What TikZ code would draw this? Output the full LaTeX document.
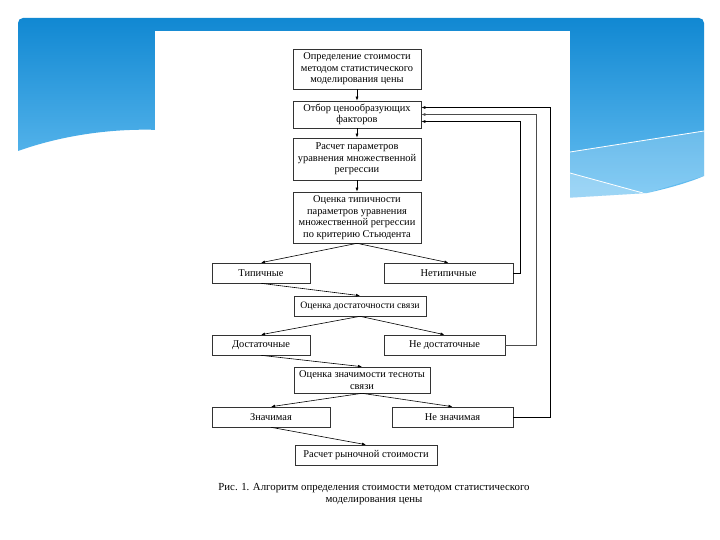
\documentclass[tikz,border=0pt]{standalone}
\usepackage{fontspec}
\setmainfont{Liberation Serif}
\usetikzlibrary{arrows.meta}

\definecolor{bandtop}{RGB}{17,136,210}
\definecolor{bandbot}{RGB}{104,192,242}

\begin{document}
\begin{tikzpicture}[x=1pt,y=-1pt,
  >={Latex[length=4pt,width=3pt]},
  box/.style={draw=black!80,line width=0.6pt,fill=white,align=center,inner sep=1pt,
    font=\fontsize{10.4}{11.5}\selectfont},
  link/.style={->,line width=0.6pt}]

%BACKGROUND
\useasboundingbox (0,0) rectangle (720,540);
\fill[white] (0,0) rectangle (720,540);
% blue band
\shade[top color=bandtop,bottom color=bandbot] (18,151) .. controls (60,136) and (110,128) .. (160,130)
  -- (565,198) -- (647,193) .. controls (670,188) and (690,182) .. (704,176)
  [rounded corners=5pt] -- (704,18) -- (18,18) -- (18,60) [sharp corners] -- cycle;
\fill[white,opacity=0.2] (570,152) -- (704,131) -- (704,176) -- (647,193) -- (570,198) -- cycle;
\fill[white,opacity=0.2] (570,173) -- (643,193) -- (570,198) -- cycle;
\draw[white,line width=0.8pt] (570,152) -- (704,131);
\draw[white,line width=0.8pt] (570,173) -- (643,193);
% picture sheet
\fill[white] (155,31) rectangle (570,540);

%BOXES
\node[box,minimum width=128pt,minimum height=40pt] (opred) at (357,69)
  {Определение стоимости\\методом статистического\\моделирования цены};
\node[box,minimum width=128pt,minimum height=27pt] (otbor) at (357,114.5)
  {Отбор ценообразующих\\факторов};
\node[box,minimum width=128pt,minimum height=42pt] (raschet) at (357,159)
  {Расчет параметров\\уравнения множественной\\регрессии};
\node[box,minimum width=128pt,minimum height=51pt] (ocenkaTip) at (357,217.5)
  {Оценка типичности\\параметров уравнения\\множественной регрессии\\по критерию Стьюдента};
\node[box,minimum width=98pt,minimum height=20pt] (tip) at (261,273) {Типичные};
\node[box,minimum width=129pt,minimum height=20pt] (netip) at (448.5,273) {Нетипичные};
\node[box,minimum width=132pt,minimum height=20pt,inner sep=3pt,font=\fontsize{9.8}{11}\selectfont]
  (ocenkaDost) at (360,306) {Оценка достаточности связи};
\node[box,minimum width=98pt,minimum height=20pt] (dost) at (261,345) {Достаточные};
\node[box,minimum width=121pt,minimum height=20pt] (nedost) at (444.5,345) {Не достаточные};
\node[box,minimum width=136pt,minimum height=26pt] (ocenkaZnach) at (362,380)
  {Оценка значимости тесноты\\связи};
\node[box,minimum width=118pt,minimum height=20pt] (znach) at (271,417) {Значимая};
\node[box,minimum width=121pt,minimum height=20pt] (neznach) at (452.5,417) {Не значимая};
\node[box,minimum width=142pt,minimum height=20pt] (rynok) at (366,455) {Расчет рыночной стоимости};

%ARROWS
\draw[link] (opred) -- (otbor);
\draw[link] (otbor) -- (raschet);
\draw[link] (raschet) -- (ocenkaTip);
\draw[link] (ocenkaTip.south) -- (tip.north);
\draw[link] (ocenkaTip.south) -- (netip.north);
\draw[link] (tip.south) -- (ocenkaDost.north);
\draw[link] (ocenkaDost.south) -- (dost.north);
\draw[link] (ocenkaDost.south) -- (nedost.north);
\draw[link] (dost.south) -- (ocenkaZnach.north);
\draw[link] (ocenkaZnach.south) -- (znach.north);
\draw[link] (ocenkaZnach.south) -- (neznach.north);
\draw[link] (znach.south) -- (rynok.north);

%FEEDBACK
\coordinate (inner) at (520,0);
\coordinate (middle) at (536,0);
\coordinate (outer) at (550,0);
\draw[link] (netip.east) -- (netip.east -| inner) |- ([yshift=-7pt]otbor.east);
\draw[link,black!70] (nedost.east) -- (nedost.east -| middle) |- (otbor.east);
\draw[link] (neznach.east) -- (neznach.east -| outer) |- ([yshift=7pt]otbor.east);

%CAPTION
\node[align=center,font=\fontsize{10.8}{12}\selectfont] (caption) at (374,494)
  {Рис. 1. Алгоритм определения стоимости методом статистического\\моделирования цены};

\end{tikzpicture}
\end{document}
